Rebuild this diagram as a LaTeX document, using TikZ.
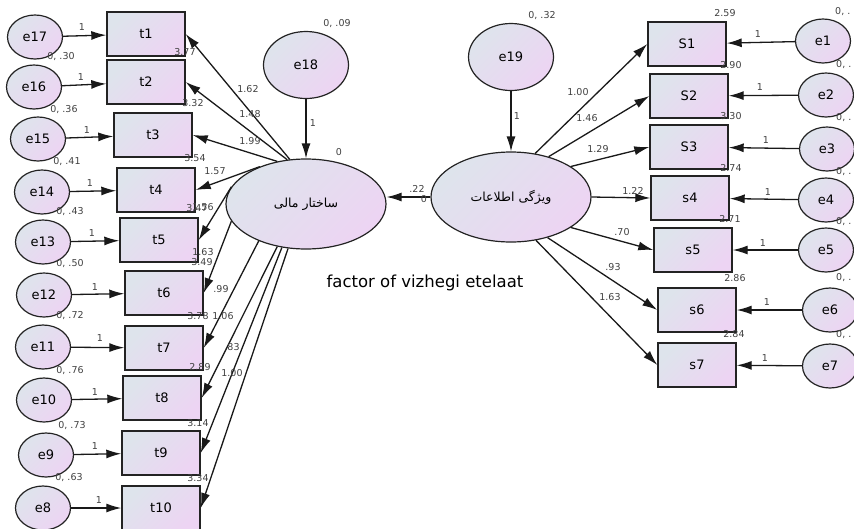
\documentclass[tikz,border=0pt]{standalone}
\usepackage{fontspec}
\setmainfont{DejaVu Sans}
\newfontfamily\farsi[Script=Arabic]{DejaVu Sans}
\TeXXeTstate=1
\usetikzlibrary{arrows.meta, shapes.geometric}
\definecolor{shadeA}{RGB}{222,228,236}
\definecolor{shadeB}{RGB}{237,212,243}
\definecolor{edge}{RGB}{35,35,35}

\begin{document}
\begin{tikzpicture}[x=1pt, y=-1pt, fillgrad/.style={top color=shadeA, bottom color=shadeB, shading angle=45}, obs/.style={draw=edge, line width=1.4pt, fillgrad, rectangle, minimum width=78pt, minimum height=44pt, font=\fontsize{13}{15}\selectfont}, err/.style={draw=edge, line width=1.2pt, fillgrad, ellipse, minimum width=55pt, minimum height=44pt, inner sep=0pt, font=\fontsize{13}{15}\selectfont}, dist/.style={err, minimum width=85pt, minimum height=67pt}, lat/.style={draw=edge, line width=1.2pt, fillgrad, ellipse, minimum width=160pt, minimum height=90pt, inner sep=0pt, font=\farsi\fontsize{12.5}{14}\selectfont}, load/.style={-{Latex[length=15pt, width=9pt]}, line width=1.3pt, draw=black!90}, num/.style={font=\fontsize{9.5}{10}\selectfont, text=black!75, inner sep=0pt}, title/.style={font=\fontsize{16.5}{18}\selectfont}]
\useasboundingbox (0,0) rectangle (854,528);

% latent variables
\node[lat] (fin) at (306,204) {\beginR ساختار مالی\endR};
\node[lat] (info) at (511,197) {\beginR ویژگی اطلاعات\endR};
\node[dist] (e18) at (306,65) {e18}; \node[dist] (e19) at (511,57) {e19};
\draw[load] (e18) -- (fin); \draw[load] (e19) -- (info);
\draw[load] (info.west) -- (fin.east |- info.west);
\node[title] (cap) at (425,283) {factor of vizhegi etelaat};

% left indicators
\node[obs] (t1) at (146,34) {t1}; \node[obs] (t2) at (146,82) {t2};
\node[obs] (t3) at (153,135) {t3}; \node[obs] (t4) at (156,190) {t4};
\node[obs] (t5) at (159,240) {t5}; \node[obs] (t6) at (164,293) {t6};
\node[obs] (t7) at (164,348) {t7}; \node[obs] (t8) at (162,398) {t8};
\node[obs] (t9) at (161,453) {t9}; \node[obs] (t10) at (161,508) {t10};
\node[err] (e17) at (35,37) {e17}; \node[err] (e16) at (34,87) {e16};
\node[err] (e15) at (38,139) {e15}; \node[err] (e14) at (42,192) {e14};
\node[err] (e13) at (43,242) {e13}; \node[err] (e12) at (44,295) {e12};
\node[err] (e11) at (43,347) {e11}; \node[err] (e10) at (44,400) {e10};
\node[err] (e9) at (46,455) {e9}; \node[err] (e8) at (43,508) {e8};
\draw[load] (e17) -- (t1); \draw[load] (e16) -- (t2); \draw[load] (e15) -- (t3);
\draw[load] (e14) -- (t4); \draw[load] (e13) -- (t5); \draw[load] (e12) -- (t6);
\draw[load] (e11) -- (t7); \draw[load] (e10) -- (t8); \draw[load] (e9) -- (t9);
\draw[load] (e8) -- (t10);
\draw[load] (fin.110) -- (t1.east); \draw[load] (fin.113) -- (t2.east);
\draw[load] (fin.124) -- (t3.east); \draw[load] (fin.141) -- (t4.east);
\draw[load] (fin.167) -- (t5.east); \draw[load] (fin.193) -- (t6.east);
\draw[load] (fin.218) -- (t7.east); \draw[load] (fin.236) -- (t8.east);
\draw[load] (fin.241) -- (t9.east); \draw[load] (fin.248) -- (t10.east);

% right indicators
\node[obs] (S1) at (687,44) {S1}; \node[obs] (S2) at (689,96) {S2};
\node[obs] (S3) at (689,147) {S3}; \node[obs] (s4) at (690,198) {s4};
\node[obs] (s5) at (693,250) {s5}; \node[obs] (s6) at (697,310) {s6};
\node[obs] (s7) at (697,365) {s7};
\node[err] (e1) at (823,41) {e1}; \node[err] (e2) at (826,95) {e2};
\node[err] (e3) at (827,149) {e3}; \node[err] (e4) at (826,200) {e4};
\node[err] (e5) at (826,250) {e5}; \node[err] (e6) at (830,310) {e6};
\node[err] (e7) at (830,366) {e7};
\draw[load] (e1) -- (S1); \draw[load] (e2) -- (S2); \draw[load] (e3) -- (S3);
\draw[load] (e4) -- (s4); \draw[load] (e5) -- (s5); \draw[load] (e6) -- (s6);
\draw[load] (e7) -- (s7);
\draw[load] (info.61) -- (S1.west); \draw[load] (info.47) -- (S2.west);
\draw[load] (info.27) -- (S3.west); \draw[load] (info.0) -- (s4.west);
\draw[load] (info.-27) -- (s5.west); \draw[load] (info.-48) -- (s6.west);
\draw[load] (info.-60) -- (s7.west);

% estimates, centre
\node[num] (m0) at (339,152) {0}; \node[num] (w18) at (313,123) {1};
\node[num] (v18) at (337,24) {0, .09}; \node[num] (v19) at (542,16) {0, .32};
\node[num] (w19) at (517,116) {1}; \node[num] (b1) at (417,189) {.22};
\node[num] (m1) at (424,199) {0};

% estimates, left
\node[num] (u17) at (82,27) {1}; \node[num] (u16) at (81,77) {1};
\node[num] (u15) at (87,130) {1}; \node[num] (u14) at (90,183) {1};
\node[num] (u13) at (92,233) {1}; \node[num] (u12) at (95,287) {1};
\node[num] (u11) at (100,338) {1}; \node[num] (u10) at (95,392) {1};
\node[num] (u9) at (95,446) {1}; \node[num] (u8) at (99,500) {1};
\node[num] (v16) at (61,57) {0, .30}; \node[num] (v15) at (64,110) {0, .36};
\node[num] (v14) at (67,162) {0, .41}; \node[num] (v13) at (70,212) {0, .43};
\node[num] (v12) at (70,264) {0, .50}; \node[num] (v11) at (70,316) {0, .72};
\node[num] (v10) at (70,371) {0, .76}; \node[num] (v9) at (72,426) {0, .73};
\node[num] (v8) at (69,478) {0, .63};
\node[num] (i2) at (185,52) {3.77}; \node[num] (i3) at (193,103) {3.32};
\node[num] (i4) at (195,158) {3.54}; \node[num] (i5) at (197,208) {3.47};
\node[num] (l5) at (203,207) {1.56}; \node[num] (i6) at (202,262) {3.49};
\node[num] (i7) at (198,316) {3.78}; \node[num] (i8) at (200,367) {2.89};
\node[num] (i9) at (198,423) {3.14}; \node[num] (i10) at (198,478) {3.34};
\node[num] (l1) at (248,89) {1.62}; \node[num] (l2) at (250,114) {1.48};
\node[num] (l3) at (250,141) {1.99}; \node[num] (l4) at (215,171) {1.57};
\node[num] (l6) at (203,252) {1.63}; \node[num] (l7) at (221,289) {.99};
\node[num] (l8) at (223,316) {1.06}; \node[num] (l9) at (232,347) {.83};
\node[num] (l10) at (232,373) {1.00};

% estimates, right
\node[num] (r1) at (578,92) {1.00}; \node[num] (r2) at (587,118) {1.46};
\node[num] (r3) at (598,149) {1.29}; \node[num] (r4) at (633,191) {1.22};
\node[num] (r5) at (622,232) {.70}; \node[num] (r6) at (613,267) {.93};
\node[num] (r7) at (610,297) {1.63};
\node[num] (k1) at (758,34) {1}; \node[num] (k2) at (760,87) {1};
\node[num] (k3) at (766,140) {1}; \node[num] (k4) at (768,192) {1};
\node[num] (k5) at (763,243) {1}; \node[num] (k6) at (767,302) {1};
\node[num] (k7) at (765,358) {1};
\node[num] (j1) at (725,13) {2.59}; \node[num] (j2) at (731,65) {2.90};
\node[num] (j3) at (731,116) {3.30}; \node[num] (j4) at (731,168) {2.74};
\node[num] (j5) at (730,219) {2.71}; \node[num] (j6) at (735,278) {2.86};
\node[num] (j7) at (734,334) {2.84};
\node[num, anchor=west] (q1) at (835,12) {0, .}; \node[num, anchor=west] (q2) at (836,65) {0, .};
\node[num, anchor=west] (q3) at (836,118) {0, .}; \node[num, anchor=west] (q4) at (836,172) {0, .};
\node[num, anchor=west] (q5) at (836,222) {0, .}; \node[num, anchor=west] (q6) at (836,278) {0, .};
\node[num, anchor=west] (q7) at (836,335) {0, .};
\end{tikzpicture}
\end{document}
